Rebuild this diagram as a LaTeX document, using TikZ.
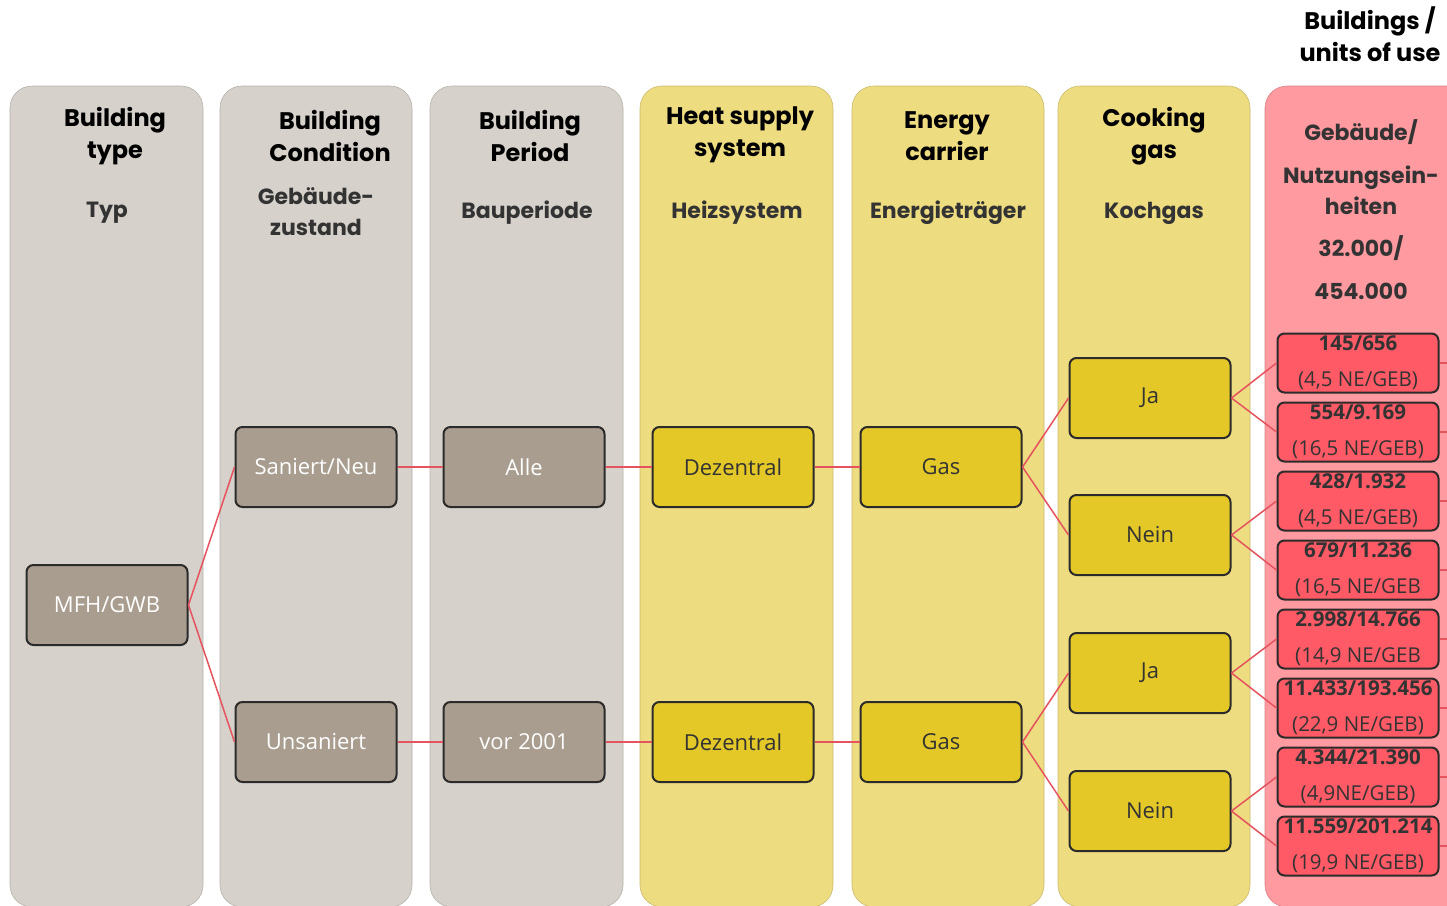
\documentclass[tikz,border=0pt]{standalone}
\usepackage{fontspec}
\setmainfont{Open Sans}
\newfontfamily\headfont{Poppins}
\usepackage{tikz}
\usetikzlibrary{positioning}

\definecolor{greylane}{HTML}{D6D1CA}
\definecolor{yellowlane}{HTML}{EEDC80}
\definecolor{redlane}{HTML}{FF9AA0}
\definecolor{greynode}{HTML}{A99D8F}
\definecolor{yellownode}{HTML}{E3C828}
\definecolor{rednode}{HTML}{FF5A65}
\definecolor{boxline}{HTML}{2B2B2B}
\definecolor{linkred}{HTML}{E5535E}
\definecolor{textdark}{HTML}{333333}

\tikzset{
  lane/.style={fill=#1, draw=#1!85!black, line width=0.6pt, rounded corners=22pt},
  box/.style={draw=boxline, line width=2pt, rounded corners=7pt, minimum width=161pt,
    minimum height=80pt, inner sep=0pt, font=\fontsize{22}{26}\selectfont},
  greybox/.style={box, fill=greynode, text=white},
  yellowbox/.style={box, fill=yellownode, text=textdark},
  redbox/.style={draw=boxline, line width=2pt, rounded corners=7pt, fill=rednode, text=textdark,
    minimum width=161pt, minimum height=59pt, inner sep=0pt, align=center,
    font=\fontsize{20.5}{36}\selectfont},
  link/.style={draw=linkred, line width=1.5pt},
  head/.style={font=\headfont\bfseries\fontsize{24}{32}\selectfont, align=center, inner sep=0pt},
  subhead/.style={font=\headfont\bfseries\fontsize{22}{31}\selectfont, text=textdark, align=center, inner sep=0pt}
}

\begin{document}
\begin{tikzpicture}[x=1pt, y=-1pt]
    \clip (0,0) rectangle (1447,905);

    % Lanes
    \fill[white] (0,0) rectangle (1447,905);
    \path[lane=greylane] (10,86) rectangle (203,907);
    \path[lane=greylane] (220,86) rectangle (412,907);
    \path[lane=greylane] (430,86) rectangle (623,907);
    \path[lane=yellowlane] (640,86) rectangle (833,907);
    \path[lane=yellowlane] (852,86) rectangle (1044,907);
    \path[lane=yellowlane] (1058,86) rectangle (1250,907);
    \path[lane=redlane] (1265,86) rectangle (1490,907);

    % Headers
    \node[head] at (1370,34) (units) {\hfill Buildings /\\units of use};
    \node[head] at (115,136) (typehead) {Building\\type};
    \node[subhead] at (107,213) (typesub) {Typ};
    \node[head] at (330,136) (condhead) {Building\\Condition};
    \node[subhead] at (316,212) (condsub) {Gebäude-\\zustand};
    \node[head] at (530,136) (periodhead) {Building\\Period};
    \node[subhead] at (527,213) (periodsub) {Bauperiode};
    \node[head] at (740,135) (heathead) {Heat supply\\system};
    \node[subhead] at (737,213) (heatsub) {Heizsystem};
    \node[head] at (947,136) (carrierhead) {Energy\\carrier};
    \node[subhead] at (948,213) (carriersub) {Energieträger};
    \node[head] at (1154,136) (cookhead) {Cooking\\gas};
    \node[subhead] at (1154,213) (cooksub) {Kochgas};
    \node[subhead] at (1361,132) (unitsub) {Gebäude/};
    \node[subhead] at (1361,190) (unitsubb) {Nutzungsein-\\heiten};
    \node[subhead] at (1361,248) (total) {32.000/};
    \node[subhead] at (1361,291) (totalb) {454.000};

    % Define nodes
    \node[greybox] at (107,605) (mfh) {MFH/GWB};
    \node[greybox] at (316,467) (saniert) {Saniert/Neu};
    \node[greybox] at (316,742) (unsaniert) {Unsaniert};
    \node[greybox] at (524,467) (alle) {Alle};
    \node[greybox] at (524,742) (vor) {vor 2001};
    \node[yellowbox] at (733,467) (dezA) {Dezentral};
    \node[yellowbox] at (733,742) (dezB) {Dezentral};
    \node[yellowbox] at (941,467) (gasA) {Gas};
    \node[yellowbox] at (941,742) (gasB) {Gas};
    \node[yellowbox] at (1150,398) (jaA) {Ja};
    \node[yellowbox] at (1150,535) (neinA) {Nein};
    \node[yellowbox] at (1150,673) (jaB) {Ja};
    \node[yellowbox] at (1150,811) (neinB) {Nein};

    \node[redbox] at (1358,363) (r1) {\textbf{145/656}\\(4,5 NE/GEB)};
    \node[redbox] at (1358,432) (r2) {\textbf{554/9.169}\\(16,5 NE/GEB)};
    \node[redbox] at (1358,501) (r3) {\textbf{428/1.932}\\(4,5 NE/GEB)};
    \node[redbox] at (1358,570) (r4) {\textbf{679/11.236}\\(16,5 NE/GEB};
    \node[redbox] at (1358,639) (r5) {\textbf{2.998/14.766}\\(14,9 NE/GEB};
    \node[redbox] at (1358,708) (r6) {\textbf{11.433/193.456}\\(22,9 NE/GEB)};
    \node[redbox] at (1358,777) (r7) {\textbf{4.344/21.390}\\(4,9NE/GEB)};
    \node[redbox] at (1358,846) (r8) {\textbf{11.559/201.214}\\(19,9 NE/GEB)};
    \coordinate (rightedge) at (1447,0);

    % Draw lines
    \draw[link] (mfh.east) -- (saniert.west);
    \draw[link] (mfh.east) -- (unsaniert.west);
    \draw[link] (saniert) -- (alle);
    \draw[link] (unsaniert) -- (vor);
    \draw[link] (alle) -- (dezA);
    \draw[link] (vor) -- (dezB);
    \draw[link] (dezA) -- (gasA);
    \draw[link] (dezB) -- (gasB);
    \draw[link] (gasA.east) -- (jaA.west);
    \draw[link] (gasA.east) -- (neinA.west);
    \draw[link] (gasB.east) -- (jaB.west);
    \draw[link] (gasB.east) -- (neinB.west);
    \draw[link] (jaA.east) -- (r1.west);
    \draw[link] (jaA.east) -- (r2.west);
    \draw[link] (neinA.east) -- (r3.west);
    \draw[link] (neinA.east) -- (r4.west);
    \draw[link] (jaB.east) -- (r5.west);
    \draw[link] (jaB.east) -- (r6.west);
    \draw[link] (neinB.east) -- (r7.west);
    \draw[link] (neinB.east) -- (r8.west);
    \foreach \r in {r1,r2,r3,r4,r5,r6,r7,r8}
      \draw[link] (\r.east) -- (\r.east -| rightedge);
\end{tikzpicture}
\end{document}
